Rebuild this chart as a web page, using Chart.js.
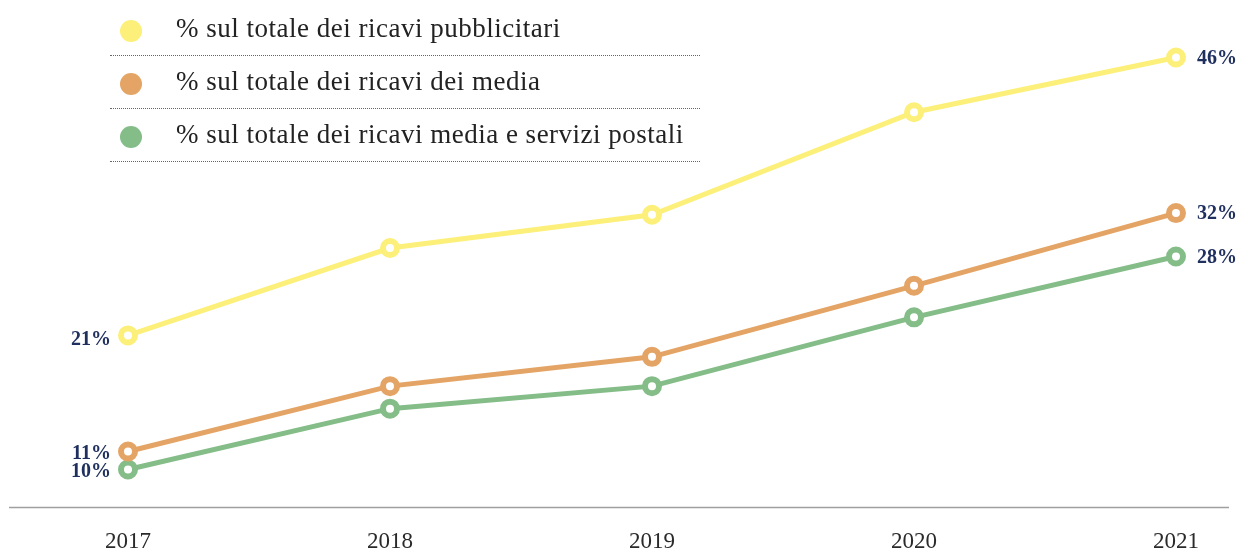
<!DOCTYPE html>
<html>
<head>
<meta charset="utf-8">
<script src="https://cdn.jsdelivr.net/npm/chart.js@4/dist/chart.umd.min.js"></script>
<style>
  html, body { margin: 0; padding: 0; background: #fff; }
  #wrap { position: relative; width: 1238px; height: 548px; }
  #legend { position: absolute; left: 110px; top: 3px; width: 590px; font-family: "Liberation Serif", serif; }
  .item { position: relative; height: 53px; border-bottom: 1.5px dotted #666; box-sizing: border-box; }
  .dot { position: absolute; left: 10px; top: 17px; width: 22px; height: 22px; border-radius: 50%; }
  .lbl { position: absolute; left: 66px; top: 10px; font-size: 27px; letter-spacing: 0.5px; color: #222; white-space: nowrap; }
</style>
</head>
<body>
<div id="wrap">
  <canvas id="report-chart" width="1238" height="548"></canvas>
  <div id="legend"></div>
</div>
<script>
const years = ['2017', '2018', '2019', '2020', '2021'];
const seriesNames = [
  '% sul totale dei ricavi pubblicitari',
  '% sul totale dei ricavi dei media',
  '% sul totale dei ricavi media e servizi postali'
];
const pubblicitari = [21.4, 29.15, 32.1, 41.2, 46.05];
const media = [11.1, 16.9, 19.5, 25.8, 32.25];
const postali = [9.5, 14.9, 16.9, 23.0, 28.4];
const colors = ['#fcf07a', '#e4a465', '#84bd88'];

const legend = document.getElementById('legend');
seriesNames.forEach((name, i) => {
  const row = document.createElement('div');
  row.className = 'item';
  row.innerHTML = "<span class='dot' style='background:" + colors[i] + "'></span><span class='lbl'>" + name + "</span>";
  legend.appendChild(row);
});

// end labels (first and last point) and the long base line
const endLabels = {
  id: 'endLabels',
  afterDatasetsDraw(chart) {
    const ctx = chart.ctx;
    ctx.save();
    ctx.font = 'bold 20px "Liberation Serif", serif';
    ctx.fillStyle = '#1f2f5e';
    ctx.textBaseline = 'middle';
    chart.data.datasets.forEach((ds, i) => {
      const pts = chart.getDatasetMeta(i).data;
      const first = pts[0], last = pts[pts.length - 1];
      ctx.textAlign = 'right';
      ctx.fillText(Math.round(ds.data[0]) + '%', first.x - 17, first.y + (i === 0 ? 4 : 2));
      ctx.textAlign = 'left';
      ctx.fillText(Math.round(ds.data[ds.data.length - 1]) + '%', last.x + 21, last.y + 1);
    });
    ctx.restore();
  },
  beforeDatasetsDraw(chart) {
    const ctx = chart.ctx;
    ctx.save();
    ctx.strokeStyle = '#a0a0a0';
    ctx.lineWidth = 1.5;
    ctx.beginPath();
    ctx.moveTo(9, chart.chartArea.bottom - 1.5);
    ctx.lineTo(1229, chart.chartArea.bottom - 1.5);
    ctx.stroke();
    ctx.restore();
  }
};

const makeSet = (label, data, color) => ({
  label: label,
  data: data,
  borderColor: color,
  backgroundColor: '#ffffff',
  borderWidth: 5,
  pointRadius: 7,
  pointBorderWidth: 6,
  pointBackgroundColor: '#ffffff',
  pointBorderColor: color,
  tension: 0
});

const config = {
  type: 'line',
  data: {
    labels: years,
    datasets: [
      makeSet(seriesNames[0], pubblicitari, colors[0]),
      makeSet(seriesNames[1], media, colors[1]),
      makeSet(seriesNames[2], postali, colors[2])
    ]
  },
  options: {
    responsive: false,
    animation: false,
    layout: { padding: { left: 128, right: 62, top: 5, bottom: 0 } },
    plugins: {
      legend: { display: false },
      tooltip: { enabled: false }
    },
    scales: {
      x: {
        grid: { display: false, drawTicks: false },
        border: { display: false },
        ticks: {
          padding: 19,
          color: '#2a2a2a',
          font: { family: '"Liberation Serif", serif', size: 23 }
        },
        afterFit: (scale) => { scale.height = 39; }
      },
      y: {
        display: false,
        min: 6,
        max: 50
      }
    }
  },
  plugins: [endLabels]
};

const ctx = document.getElementById('report-chart').getContext('2d');
new Chart(ctx, config);
</script>
</body>
</html>
